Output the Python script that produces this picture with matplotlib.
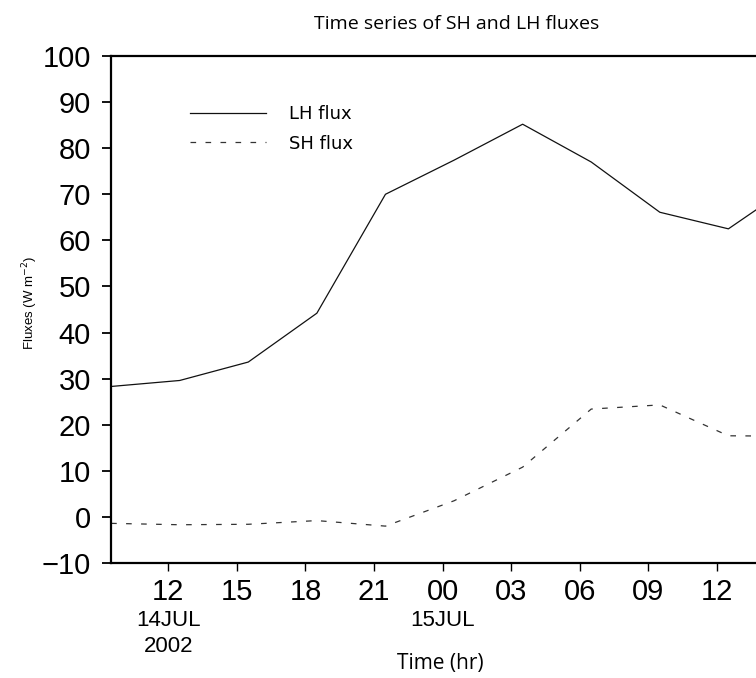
import matplotlib
matplotlib.use("Agg")
import matplotlib.pyplot as plt
from matplotlib import transforms

# hours since 2002-07-14 00:00
hours = [9.5, 12.5, 15.5, 18.5, 21.5, 24.5, 27.5, 30.5, 33.5, 36.5, 39.5]
lh_flux = [28.3, 29.6, 33.6, 44.2, 70.0, 77.4, 85.2, 77.0, 66.1, 62.5, 72.7]
sh_flux = [-1.4, -1.7, -1.6, -0.8, -2.0, 3.5, 10.8, 23.4, 24.3, 17.6, 17.5]

xtick_pos = [12, 15, 18, 21, 24, 27, 30, 33, 36]
xtick_labels = ["12", "15", "18", "21", "00", "03", "06", "09", "12"]
date_pos = [12, 24]
date_labels = ["14JUL\n2002", "15JUL"]
yticks = list(range(-10, 101, 10))

W, H = 756, 678
fig = plt.figure(figsize=(W / 100, H / 100), dpi=100)
left_px, right_px, top_px, bot_px = 111.1, 797.0, 56.0, 563.0
ax = fig.add_axes([left_px / W, 1 - bot_px / H, (right_px - left_px) / W, (bot_px - top_px) / H])

ax.plot(hours, lh_flux, color="#111111", lw=0.9, label="LH flux")
ax.plot(hours, sh_flux, color="#333333", lw=0.9, linestyle=(0, (4.5, 7.5)), label="SH flux")

ax.set_xlim(9.5, 39.5)
ax.set_ylim(-10, 100)
ax.set_yticks(yticks)
ax.set_yticklabels([str(v).replace("-", "\u2212") for v in yticks])
ax.set_xticks(xtick_pos)
ax.set_xticklabels(xtick_labels)

for lab in ax.get_yticklabels() + ax.get_xticklabels():
    lab.set_fontfamily(["Liberation Sans", "DejaVu Sans"])
    lab.set_fontsize(21)

ax.tick_params(axis="y", direction="out", length=6.5, width=1.3, pad=8)
ax.tick_params(axis="x", direction="out", length=6, width=1.0, pad=5)
for s in ["left", "bottom", "top"]:
    ax.spines[s].set_linewidth(1.6)
ax.spines["right"].set_visible(False)

narrow = ["Liberation Sans Narrow", "Liberation Sans", "DejaVu Sans"]
trans = transforms.blended_transform_factory(ax.transData, ax.transAxes)
for xp, lab in zip(date_pos, date_labels):
    ax.text(xp, -0.093, lab, transform=trans, ha="center", va="top",
            family=narrow, fontsize=16, linespacing=1.3)

ax.set_ylabel("Fluxes (W m$^{-2}$)", family=narrow, fontsize=9.5)
ax.yaxis.set_label_coords(-0.104, 0.513)

fig.text(440 / W, 1 - 663 / H, "Time (hr)", ha="center", va="center",
         family=["Open Sans", "DejaVu Sans"], fontsize=15, fontweight="medium")
fig.text(457 / W, 1 - 24 / H, "Time series of SH and LH fluxes", ha="center", va="center",
         family=["Open Sans", "DejaVu Sans"], fontsize=14)

leg = ax.legend(loc="upper left", bbox_to_anchor=(174 / W, 1 - 89 / H),
                bbox_transform=fig.transFigure, frameon=False,
                prop=dict(family="DejaVu Sans", size=13),
                handlelength=4.2, handletextpad=1.25, labelspacing=0.63)

fig.savefig("out.png", dpi=100)
